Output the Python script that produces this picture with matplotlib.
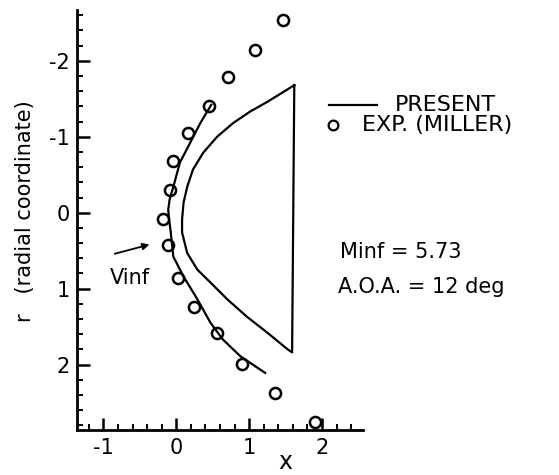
import matplotlib
matplotlib.use("Agg")
import matplotlib.pyplot as plt
from matplotlib.lines import Line2D
from matplotlib.ticker import MultipleLocator

plt.rcParams['font.family'] = ['DejaVu Sans']
plt.rcParams['axes.unicode_minus'] = False

# Computed shock position (PRESENT)
shock_x = [0.48, 0.33, 0.19, 0.05, -0.04, -0.09, -0.11, -0.10, -0.08, -0.04, 0.10, 0.29, 0.47, 0.64, 0.88, 1.22]
shock_r = [-1.42, -1.18, -0.92, -0.66, -0.34, -0.18, -0.04, 0.08, 0.22, 0.58, 0.84, 1.14, 1.45, 1.67, 1.89, 2.11]

# Body contour (closed at the base)
body_x = [1.62, 1.47, 1.25, 1.01, 0.78, 0.56, 0.37, 0.23, 0.15, 0.10, 0.08, 0.08, 0.15, 0.29, 0.47, 0.70, 0.97, 1.25, 1.53, 1.59, 1.62]
body_r = [-1.68, -1.59, -1.46, -1.33, -1.18, -1.00, -0.79, -0.57, -0.34, -0.13, 0.09, 0.26, 0.53, 0.75, 0.92, 1.14, 1.37, 1.58, 1.80, 1.84, -1.68]

# Experimental shock points (MILLER)
exp_x = [1.47, 1.08, 0.71, 0.45, 0.16, -0.05, -0.08, -0.18, -0.11, 0.03, 0.25, 0.56, 0.90, 1.36, 1.90]
exp_r = [-2.54, -2.14, -1.79, -1.41, -1.05, -0.68, -0.30, 0.08, 0.43, 0.86, 1.24, 1.59, 1.99, 2.37, 2.75]

x_ticks = [-1, 0, 1, 2]
r_ticks = [-2, -1, 0, 1, 2]

fig = plt.figure(figsize=(5.59, 4.75), dpi=100)
ax = fig.add_axes([0.138, 0.095, 0.511, 0.884])

ax.plot(shock_x, shock_r, color='black', lw=1.6)
ax.plot(body_x, body_r, color='black', lw=1.6)
ax.plot(exp_x, exp_r, linestyle='none', marker='o', ms=8, mfc='none',
        mec='black', mew=1.8, clip_on=False)

ax.set_xlim(-1.36, 2.56)
ax.set_ylim(2.86, -2.67)

for side in ('top', 'right'):
    ax.spines[side].set_visible(False)
for side in ('left', 'bottom'):
    ax.spines[side].set_linewidth(2)

ax.set_xticks(x_ticks)
ax.set_xticklabels([str(v) for v in x_ticks])
ax.set_yticks(r_ticks)
ax.set_yticklabels([str(v) for v in r_ticks])
ax.xaxis.set_minor_locator(MultipleLocator(0.2))
ax.yaxis.set_minor_locator(MultipleLocator(0.2))
ax.tick_params(which='major', direction='in', length=9, width=1.8, labelsize=15)
ax.tick_params(which='minor', direction='in', length=4, width=1.4)
ax.tick_params(axis='x', which='major', pad=6)
ax.tick_params(axis='y', which='major', pad=5)

ax.annotate('', xy=(-0.33, 0.41), xytext=(-0.88, 0.55),
            arrowprops=dict(arrowstyle='-|>', color='black', lw=1.3,
                            mutation_scale=10))
fig.text(0.197, 0.415, 'Vinf', fontsize=15, va='center', ha='left')

fig.text(0.045, 0.555, 'r   (radial coordinate)', fontsize=15, rotation=90,
         va='center', ha='center')
fig.text(0.51, 0.012, 'x', fontsize=17, va='baseline', ha='center')

# Key
fig.add_artist(Line2D([0.589, 0.674], [0.779, 0.779], color='black', lw=1.6))
fig.text(0.707, 0.779, 'PRESENT', fontsize=16, va='center', ha='left')
fig.add_artist(Line2D([0.596], [0.737], marker='o', ms=7, mfc='none',
                      mec='black', mew=1.6, linestyle='none'))
fig.text(0.648, 0.737, 'EXP. (MILLER)', fontsize=16, va='center', ha='left')

fig.text(0.608, 0.469, 'Minf = 5.73', fontsize=15, va='center', ha='left')
fig.text(0.605, 0.396, 'A.O.A. = 12 deg', fontsize=15, va='center', ha='left')

fig.savefig('out.png', dpi=100)
